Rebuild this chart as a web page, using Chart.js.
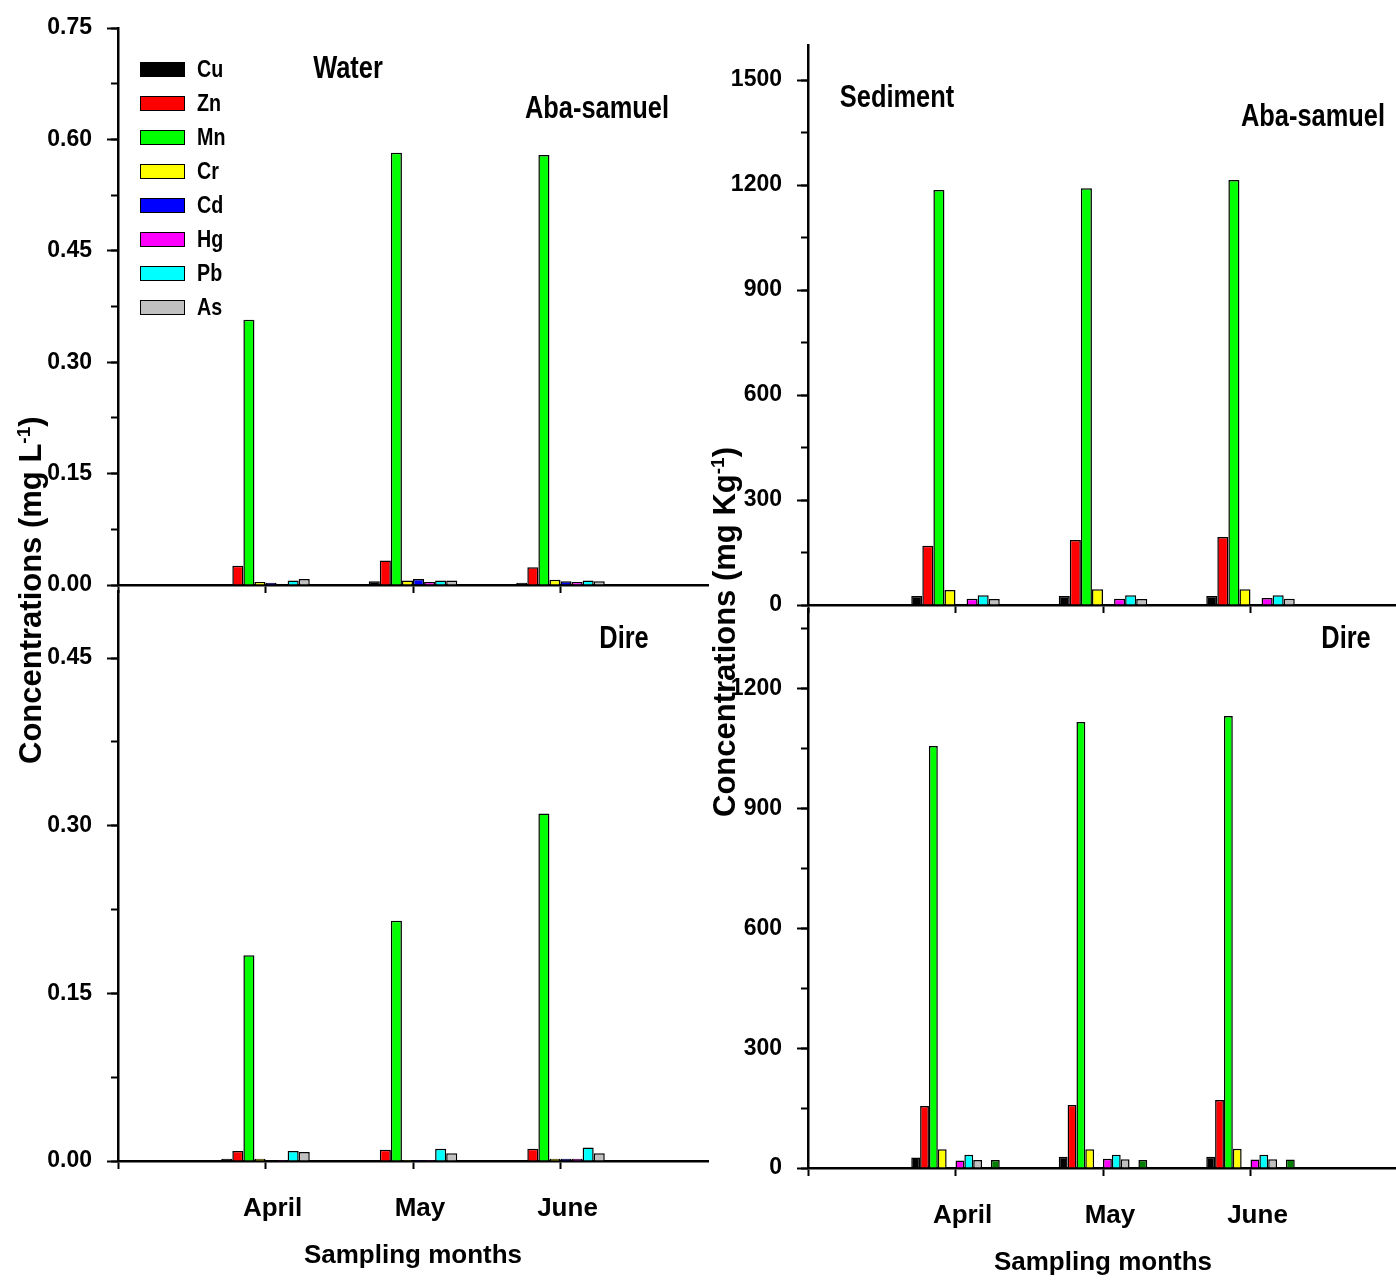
<!DOCTYPE html>
<html>
<head>
<meta charset="utf-8">
<script src="https://cdn.jsdelivr.net/npm/chart.js@4.4.1/dist/chart.umd.min.js"></script>
<style>
  html, body { margin: 0; padding: 0; background: #fff; width: 1396px; height: 1281px; overflow: hidden; }
  canvas { position: absolute; }
  .txt { position: absolute; font: bold 31px 'Liberation Sans', Arial, sans-serif; color: #000; white-space: nowrap; transform: translate(-50%, -50%) scaleX(0.82); }
  .ytitle { position: absolute; font: bold 31px 'Liberation Sans', Arial, sans-serif; line-height: 36px; color: #000; white-space: nowrap; transform-origin: 0 0; transform: rotate(-90deg); }
  .ytitle sup { font-size: 19px; }
  .leg { position: absolute; left: 0; top: 0; font: bold 24px 'Liberation Sans', Arial, sans-serif; }
  .leg div { position: absolute; white-space: nowrap; transform-origin: 0 50%; transform: scaleX(0.82); }
  .leg span { position: absolute; width: 43px; height: 13px; border: 1.5px solid #000; }
</style>
</head>
<body>
<canvas id="waterAba" width="712" height="617" style="left:0px;top:-2px"></canvas>
<canvas id="waterDire" width="712" height="719" style="left:0px;top:561px"></canvas>
<canvas id="sedAba" width="682" height="620" style="left:718px;top:15px"></canvas>
<canvas id="sedDire" width="682" height="708" style="left:718px;top:579px"></canvas>

<div class="txt" style="left:348px;top:68px">Water</div>
<div class="txt" style="left:597px;top:108px">Aba-samuel</div>
<div class="txt" style="left:624px;top:638px">Dire</div>
<div class="txt" style="left:897px;top:97px">Sediment</div>
<div class="txt" style="left:1313px;top:116px">Aba-samuel</div>
<div class="txt" style="left:1346px;top:638px">Dire</div>
<div class="ytitle" style="left:6px;top:764px">Concentrations (mg L<sup>-1</sup>)</div>
<div class="ytitle" style="left:700px;top:817px">Concentrations (mg Kg<sup>-1</sup>)</div>
<div class="leg" id="legend"></div>

<script>
const months = ['April', 'May', 'June'];
const metals = ['Cu', 'Zn', 'Mn', 'Cr', 'Cd', 'Hg', 'Pb', 'As'];
const metalColors = ['#000000', '#ff0000', '#00ff00', '#ffff00', '#0000ff', '#ff00ff', '#00ffff', '#c0c0c0'];

// water, mg/L  (rows follow metals, columns follow months)
const waterAba = [
  [0.000, 0.005, 0.003],
  [0.026, 0.033, 0.024],
  [0.357, 0.582, 0.579],
  [0.004, 0.006, 0.007],
  [0.003, 0.008, 0.005],
  [0.000, 0.004, 0.004],
  [0.006, 0.006, 0.006],
  [0.008, 0.006, 0.005]
];
const waterDire = [
  [0.002, 0.001, 0.001],
  [0.009, 0.010, 0.011],
  [0.184, 0.215, 0.311],
  [0.002, 0.001, 0.002],
  [0.000, 0.001, 0.002],
  [0.001, 0.001, 0.002],
  [0.009, 0.011, 0.012],
  [0.008, 0.007, 0.007]
];

// sediment, mg/kg
const sedAba = [
  [26, 26, 26],
  [169, 186, 194],
  [1186, 1191, 1214],
  [43, 45, 45],
  [0, 0, 0],
  [18, 18, 20],
  [28, 28, 28],
  [17, 17, 18]
];
const sedDire = [
  [26, 28, 28],
  [155, 158, 170],
  [1057, 1117, 1132],
  [47, 47, 48],
  [0, 0, 0],
  [19, 23, 21],
  [33, 33, 33],
  [20, 22, 22]
];
// two more bars only in the Dire sediment panel (one empty slot, one dark green, not in legend)
const sedDireExtra = [20, 20, 21];
const extraColor = '#007f00';

const waterTicks = { step: 0.15, minor: 0.075, digits: 2 };
const sedTicks = { step: 300, minor: 150, digits: 0 };

Chart.defaults.font.family = "'Liberation Sans', Arial, sans-serif";
Chart.defaults.font.weight = 'bold';
Chart.defaults.color = '#000';
Chart.defaults.animation = false;

// legend in the water panel
const legend = document.getElementById('legend');
metals.forEach((m, i) => {
  const top = 62 + i * 34;
  legend.innerHTML += `<span style="left:140px;top:${top}px;background:${metalColors[i]}"></span>` +
    `<div style="left:197px;top:${top - 7}px">${m}</div>`;
});

function pad(arr) { return [null, ...arr, null]; }

function makeChart(id, rows, extra, max, tk, o) {
  const datasets = rows.map((r, i) => ({
    label: metals[i], data: pad(r), backgroundColor: metalColors[i]
  }));
  if (extra) {
    datasets.push({ label: '', data: pad([null, null, null]), backgroundColor: extraColor });
    datasets.push({ label: 'extra', data: pad(extra), backgroundColor: extraColor });
  }
  const labels = ['', ...months, ''];
  return new Chart(document.getElementById(id), {
    type: 'bar',
    data: { labels: labels, datasets: datasets },
    options: {
      responsive: false,
      layout: { padding: { top: 30, right: o.padRight, left: 0, bottom: 0 } },
      plugins: { legend: { display: false }, tooltip: { enabled: false } },
      datasets: { bar: { borderColor: '#000', borderWidth: 1.5, categoryPercentage: 0.6, barPercentage: 1 } },
      scales: {
        x: {
          offset: false,
          grid: {
            offset: false, drawOnChartArea: false, tickLength: 8, tickWidth: 2,
            tickColor: c => c.index === labels.length - 1 ? 'rgba(0,0,0,0)' : '#000'
          },
          border: { color: '#000', width: 2.5 },
          ticks: { display: o.showMonths, padding: 24, labelOffset: 7, font: { size: 26 }, maxRotation: 0, autoSkip: false },
          title: { display: o.showMonths, text: 'Sampling months', font: { size: 26 }, padding: { top: 0, bottom: 9 } },
          afterFit: s => { s.height = o.xHeight; s.paddingLeft = 0; s.paddingRight = 0; }
        },
        y: {
          position: 'left', weight: 1, min: 0, max: max,
          grid: { drawOnChartArea: false, tickLength: 11, tickWidth: 2, tickColor: '#000' },
          border: { color: '#000', width: 2.5 },
          ticks: {
            stepSize: tk.step, includeBounds: false, padding: 15, font: { size: 23 },
            callback: v => v.toFixed(tk.digits)
          },
          afterFit: s => { s.width = o.yWidth; }
        },
        yMinor: {
          position: 'left', weight: 0, min: 0, max: max,
          grid: { drawOnChartArea: false, tickLength: 7, tickWidth: 2, tickColor: '#000' },
          border: { display: false },
          ticks: { stepSize: tk.minor, includeBounds: false, display: false },
          afterFit: s => { s.width = 0; }
        }
      }
    }
  });
}

makeChart('waterAba', waterAba, null, 0.75, waterTicks,
  { padRight: 4, xHeight: 30, yWidth: 118, showMonths: false });
makeChart('waterDire', waterDire, null, 0.51, waterTicks,
  { padRight: 4, xHeight: 119, yWidth: 118, showMonths: true });
makeChart('sedAba', sedAba, null, 1600, sedTicks,
  { padRight: 2, xHeight: 30, yWidth: 90, showMonths: false });
makeChart('sedDire', sedDire, sedDireExtra, 1400, sedTicks,
  { padRight: 2, xHeight: 119, yWidth: 90, showMonths: true });
</script>
</body>
</html>
